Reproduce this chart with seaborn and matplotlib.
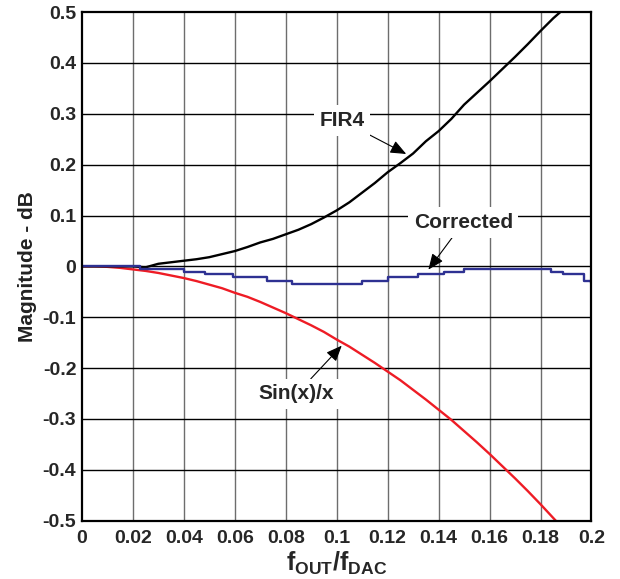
"""
FIR4 / Sin(x)/x / Corrected magnitude response
"""
import matplotlib
matplotlib.use('Agg')
import matplotlib.pyplot as plt
import seaborn as sns

sns.set_style('white')
plt.rcParams['font.family'] = ['Liberation Sans', 'DejaVu Sans']
plt.rcParams['mathtext.fontset'] = 'custom'
plt.rcParams['mathtext.rm'] = 'Liberation Sans'
plt.rcParams['mathtext.bf'] = 'Liberation Sans:bold'

# --- data ---
freq = [0, 0.005, 0.01, 0.015, 0.02, 0.025, 0.03, 0.035, 0.04, 0.045,
        0.05, 0.055, 0.06, 0.065, 0.07, 0.075, 0.08, 0.085, 0.09, 0.095,
        0.1, 0.105, 0.11, 0.115, 0.12, 0.125, 0.13, 0.135, 0.14, 0.145,
        0.15, 0.155, 0.16, 0.165, 0.17, 0.175, 0.18, 0.185, 0.19]

fir4 = [0, 0, 0, 0, 0, -0.002, 0.005, 0.008, 0.011, 0.014,
        0.018, 0.024, 0.030, 0.038, 0.047, 0.054, 0.063, 0.072, 0.083, 0.096,
        0.110, 0.126, 0.145, 0.164, 0.185, 0.203, 0.222, 0.246, 0.266, 0.290,
        0.318, 0.341, 0.364, 0.388, 0.412, 0.437, 0.463, 0.488, 0.510]

sinx = [0, 0, -0.001, -0.003, -0.006, -0.009, -0.013, -0.018, -0.023, -0.029,
        -0.036, -0.043, -0.052, -0.060, -0.070, -0.081, -0.092, -0.104, -0.116, -0.129,
        -0.144, -0.158, -0.174, -0.190, -0.207, -0.224, -0.243, -0.262, -0.282, -0.302,
        -0.324, -0.346, -0.369, -0.393, -0.417, -0.442, -0.468, -0.495, -0.522]

# corrected response is a staircase: step edges and levels
corr_x = [0, 0.023, 0.040, 0.0485, 0.0595, 0.0725, 0.0825, 0.110, 0.120,
          0.132, 0.142, 0.150, 0.184, 0.189, 0.197, 0.2]
corr_y = [0, -0.005, -0.012, -0.016, -0.021, -0.028, -0.034, -0.028, -0.021,
          -0.016, -0.012, -0.005, -0.012, -0.016, -0.028, -0.032]

x_ticks = [0, 0.02, 0.04, 0.06, 0.08, 0.1, 0.12, 0.14, 0.16, 0.18, 0.2]
x_labels = ['0', '0.02', '0.04', '0.06', '0.08', '0.1', '0.12', '0.14', '0.16', '0.18', '0.2']
y_ticks = [-0.5, -0.4, -0.3, -0.2, -0.1, 0, 0.1, 0.2, 0.3, 0.4, 0.5]
y_labels = ['-0.5', '-0.4', '-0.3', '-0.2', '-0.1', '0', '0.1', '0.2', '0.3', '0.4', '0.5']

fig, ax = plt.subplots(figsize=(6.2, 5.79), dpi=100)
fig.subplots_adjust(left=0.132, right=0.954, top=0.979, bottom=0.101)

# grid: gray verticals, black horizontals
for xv in x_ticks[1:-1]:
    ax.axvline(xv, color='#6d6d6d', lw=1.0, zorder=1)
for yv in y_ticks[1:-1]:
    ax.axhline(yv, color='black', lw=1.0, zorder=1.5)

sns.lineplot(x=freq, y=sinx, color='#ee1c25', lw=1.7, ax=ax, zorder=4)
sns.lineplot(x=freq, y=fir4, color='black', lw=1.7, ax=ax, zorder=4)
sns.lineplot(x=corr_x, y=corr_y, color='#2e3192', lw=1.7, drawstyle='steps-post',
             ax=ax, zorder=5)

ax.set_xlim(0, 0.2)
ax.set_ylim(-0.5, 0.5)
ax.set_xticks(x_ticks)
ax.set_xticklabels(x_labels, fontsize=14, fontweight='bold')
ax.set_yticks(y_ticks)
ax.set_yticklabels(y_labels, fontsize=14, fontweight='bold')
ax.tick_params(axis='x', length=0, pad=7)
ax.tick_params(axis='y', length=0, pad=4)

for side in ['left', 'bottom', 'top', 'right']:
    ax.spines[side].set_color('black')
    ax.spines[side].set_linewidth(1.6)
    ax.spines[side].set_zorder(6)

ax.set_xlabel(r'$\mathbf{f_{OUT}/f_{DAC}}$', fontsize=18, labelpad=2)
ax.set_ylabel('Magnitude - dB', fontsize=15, fontweight='bold', labelpad=4,
              color='#222222')

box = dict(facecolor='white', edgecolor='none', pad=4)
arrow = dict(arrowstyle='-|>,head_length=0.6,head_width=0.25', color='black',
             lw=0.8, mutation_scale=16, shrinkA=0, shrinkB=0)
ax.annotate('FIR4', xy=(0.1273, 0.221), xytext=(0.102, 0.287), fontsize=15,
            fontweight='bold', ha='center', va='center', bbox=box,
            arrowprops=arrow, zorder=3)
ax.annotate('Corrected', xy=(0.136, -0.0065), xytext=(0.1497, 0.086), fontsize=15,
            fontweight='bold', ha='center', va='center', bbox=box,
            arrowprops=arrow, zorder=3)
ax.annotate('Sin(x)/x', xy=(0.102, -0.156), xytext=(0.0843, -0.251), fontsize=15,
            fontweight='bold', ha='center', va='center', bbox=box,
            arrowprops=arrow, zorder=3)

plt.savefig('out.png', dpi=100)
